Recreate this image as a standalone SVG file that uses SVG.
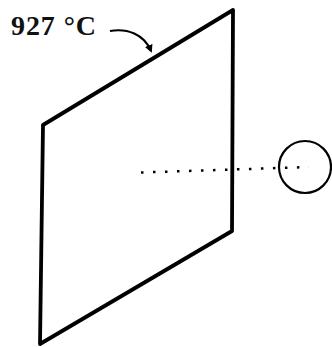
<svg xmlns="http://www.w3.org/2000/svg" width="332" height="347" viewBox="0 0 332 347">
<style>
.lbl{font-family:"Liberation Serif","DejaVu Serif",serif;font-size:28px;font-weight:bold;fill:#111}
.edge{fill:none;stroke:#000;stroke-width:3.8;stroke-linejoin:round}
.thin{fill:none;stroke:#000;stroke-width:2}
</style>
<defs>
<marker id="ah" markerWidth="8" markerHeight="8" refX="6" refY="4" orient="auto" markerUnits="userSpaceOnUse">
<path d="M0,0 L8,4 L0,8 Z" fill="#000"/>
</marker>
</defs>
<rect width="332" height="347" fill="#fff"/>
<g id="plate">
<polygon class="edge" points="233,10 43,125 40,344 232,231"/>
</g>
<g id="sphere">
<circle cx="305" cy="167" r="26" fill="none" stroke="#000" stroke-width="2.2"/>
</g>
<g id="label">
<text class="lbl" x="11" y="35" textLength="85" lengthAdjust="spacing">927 °C</text>
</g>
<g id="connectors">
<path class="thin" d="M110,31 C127,28 144,34 151,51" marker-end="url(#ah)"/>
<line x1="141" y1="172.5" x2="309" y2="167" stroke="#000" stroke-width="2.5" stroke-dasharray="2.5 9.5"/>
</g>
</svg>
